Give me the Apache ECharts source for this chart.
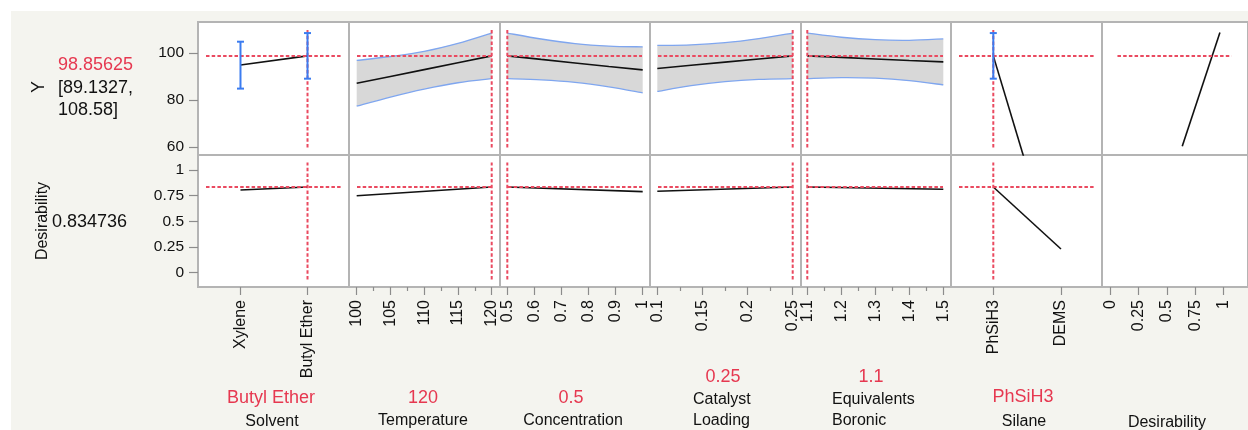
<!DOCTYPE html>
<html><head><meta charset="utf-8">
<script src="https://cdn.jsdelivr.net/npm/echarts@6/dist/echarts.min.js"></script>
<style>
html,body{margin:0;padding:0;background:#fff;width:1248px;height:430px;overflow:hidden;}
#bg{position:absolute;left:11px;top:11px;width:1237px;height:419px;background:#f4f4ef;}
#c{position:absolute;left:0;top:0;width:1248px;height:430px;}
</style></head>
<body><div id="bg"></div><div id="c"></div>
<script>
// ================= DATA =================
const solventCats = ['Xylene', 'Butyl Ether'];
const silaneCats = ['PhSiH3', 'DEMS'];
const yTickVals = [60, 80, 100];
const dTickVals = [0, 0.25, 0.5, 0.75, 1];
const solventTicks = [0, 1];
const tempTicks = [100, 105, 110, 115, 120];
const tempMinor = [102.5, 107.5, 112.5, 117.5];
const concTicks = [0.5, 0.6, 0.7, 0.8, 0.9, 1];
const catTicks = [0.1, 0.15, 0.2, 0.25];
const catMinor = [0.125, 0.175, 0.225];
const borTicks = [1.1, 1.2, 1.3, 1.4, 1.5];
const borMinor = [1.15, 1.25, 1.35, 1.45];
const silaneTicks = [0, 1];
const desTicks = [0, 0.25, 0.5, 0.75, 1];

const yCurrent = 98.85625;
const yCILow = 89.1327;
const yCIHigh = 108.58;
const dCurrent = 0.834736;

// current factor settings
const curSolvent = 1, curTemp = 120, curConc = 0.5, curCat = 0.25, curBor = 1.1, curSilane = 0;

// Solvent
const solventX = [0, 1];
const solventY = [95.0, 98.85625];
const solventLo = [84.9, 89.1327];
const solventHi = [104.9, 108.58];
const solventD = [0.805, 0.834736];
// Temperature
const tempX = [100, 105, 110, 115, 120];
const tempY = [87.2, 90.1, 93.0, 95.9, 98.86];
const tempLo = [77.4, 81.3, 84.7, 87.4, 89.13];
const tempHi = [96.9, 98.6, 100.8, 104.2, 108.58];
const tempDX = [100, 120];
const tempD = [0.75, 0.835];
// Concentration
const concX = [0.5, 0.625, 0.75, 0.875, 1];
const concY = [98.86, 97.35, 95.85, 94.35, 92.9];
const concLo = [89.13, 88.65, 87.6, 85.65, 83.1];
const concHi = [108.58, 106.05, 104.1, 103.05, 102.7];
const concDX = [0.5, 1];
const concD = [0.835, 0.789];
// Catalyst Loading
const catX = [0.1, 0.1375, 0.175, 0.2125, 0.25];
const catY = [93.5, 94.85, 96.2, 97.55, 98.86];
const catLo = [83.7, 86.15, 87.9, 88.85, 89.13];
const catHi = [103.3, 103.55, 104.5, 106.25, 108.58];
const catDX = [0.1, 0.25];
const catD = [0.793, 0.835];
// Equivalents Boronic
const borX = [1.1, 1.2, 1.3, 1.4, 1.5];
const borY = [98.86, 98.2, 97.55, 96.9, 96.3];
const borLo = [89.13, 89.6, 89.35, 88.3, 86.5];
const borHi = [108.58, 106.8, 105.75, 105.5, 106.1];
const borDX = [1.1, 1.5];
const borD = [0.835, 0.812];
// Silane
const silaneX = [0, 1];
const silaneY = [98.85625, 3];
const silaneLo = [89.1327];
const silaneHi = [108.58];
const silaneD = [0.834736, 0.231];
// Desirability function
const desX = [0.635, 0.968];
const desY = [60.3, 108.8];

// ================= LAYOUT =================
const COLS = [
  {left:198, width:151, min:-0.634, max:1.619},
  {left:349, width:151, min:98.86, max:121.23},
  {left:500, width:150, min:0.473, max:1.027},
  {left:650, width:151, min:0.0919, max:0.2592},
  {left:801, width:150, min:1.0815, max:1.5226},
  {left:951, width:151, min:-0.625, max:1.606},
  {left:1102, width:151, min:-0.074, max:1.216}
];
const ROWS = [
  {top:22, height:133, min:56.6, max:113.3},
  {top:155, height:132, min:-0.139, max:1.146}
];
const RED = '#ea4a60', REDTXT = '#e63850', BLUE = '#3b7cf0', EDGE = '#7fa6ef', BAND = '#d8d8d8', INK = '#111', FRAME = '#b4b4b4', TICK = '#8c8c8c';
const FONT = 'Liberation Sans, Arial, Helvetica, sans-serif';

const xTickSets = [solventTicks, tempTicks, concTicks, catTicks, borTicks, silaneTicks, desTicks];
const xMinorSets = [null, tempMinor, null, catMinor, borMinor, null, null];
const xFormatters = [
  v => solventCats[Math.round(v)], null, null, null, null,
  v => silaneCats[Math.round(v)], null
];

const grids = [], xAxes = [], yAxes = [], series = [];
function gi(r, c){ return r*7 + c; }

for (let r = 0; r < 2; r++) {
  for (let c = 0; c < 7; c++) {
    const col = COLS[c], row = ROWS[r];
    grids.push({left: col.left, top: row.top, width: col.width, height: row.height,
      show: true, backgroundColor: '#fff', borderColor: FRAME, borderWidth: 2, z: 0});
    const bottom = r === 1;
    const lab = {show: bottom, customValues: xTickSets[c], rotate: 90, margin: 13,
      fontSize: 16, color: INK, fontFamily: FONT, showMinLabel: true, showMaxLabel: true};
    if (xFormatters[c]) lab.formatter = xFormatters[c];
    xAxes.push({type: 'value', gridIndex: gi(r,c), min: col.min, max: col.max, position: 'bottom',
      axisLine: {show: false, onZero: false}, splitLine: {show: false},
      axisTick: {show: bottom, length: 8, customValues: xTickSets[c], lineStyle: {color: TICK, width: 1.2}},
      axisLabel: lab});
    const first = c === 0;
    const yt = r === 0 ? yTickVals : dTickVals;
    yAxes.push({type: 'value', gridIndex: gi(r,c), min: row.min, max: row.max, position: 'left',
      axisLine: {show: false, onZero: false}, splitLine: {show: false},
      axisTick: {show: first, length: 9, customValues: yt, lineStyle: {color: TICK, width: 1.2}},
      axisLabel: {show: first, customValues: yt, margin: 14, fontSize: 15.5, color: INK, fontFamily: FONT,
        showMinLabel: true, showMaxLabel: true}});
  }
}
// minor tick axes (bottom row)
for (let c = 0; c < 7; c++) {
  if (!xMinorSets[c]) continue;
  const col = COLS[c];
  xAxes.push({type: 'value', gridIndex: gi(1,c), min: col.min, max: col.max, position: 'bottom',
    axisLine: {show: false, onZero: false}, splitLine: {show: false},
    axisTick: {show: true, length: 4, customValues: xMinorSets[c], lineStyle: {color: TICK, width: 1.2}},
    axisLabel: {show: false}});
}

function xy(xs, ys){ return xs.map((x, i) => [x, ys[i]]); }
function hLine(c, r, yv, inL, inR){
  const col = COLS[c]; const s = col.max - col.min;
  return [[col.min + s*inL/col.width, yv], [col.max - s*inR/col.width, yv]];
}
function vLine(c, r, xv){
  const row = ROWS[r]; const s = row.max - row.min; const inset = 7.5;
  return [[xv, row.min + s*inset/row.height], [xv, row.max - s*inset/row.height]];
}
function line(r, c, data, color, width, z, extra){
  return Object.assign({type: 'line', xAxisIndex: gi(r,c), yAxisIndex: gi(r,c), data: data,
    symbol: 'none', silent: true, animation: false, z: z,
    lineStyle: {color: color, width: width}}, extra || {});
}
function dashed(r, c, data){
  return line(r, c, data, RED, 2, 6, {lineStyle: {color: RED, width: 2, type: [3.5, 2.2]}});
}
// Catmull-Rom style cubic path through screen points (drawing only)
function curvePath(pts, start){
  let d = start ? ('M' + pts[0][0] + ' ' + pts[0][1]) : ('L' + pts[0][0] + ' ' + pts[0][1]);
  for (let i = 0; i < pts.length - 1; i++) {
    const p0 = pts[Math.max(i-1, 0)], p1 = pts[i], p2 = pts[i+1], p3 = pts[Math.min(i+2, pts.length-1)];
    const c1 = [p1[0] + (p2[0]-p0[0])/6, p1[1] + (p2[1]-p0[1])/6];
    const c2 = [p2[0] - (p3[0]-p1[0])/6, p2[1] - (p3[1]-p1[1])/6];
    d += ' C' + c1[0] + ' ' + c1[1] + ' ' + c2[0] + ' ' + c2[1] + ' ' + p2[0] + ' ' + p2[1];
  }
  return d;
}
function band(r, c, xs, lo, hi){
  series.push({type: 'custom', xAxisIndex: gi(r,c), yAxisIndex: gi(r,c), z: 1, silent: true, animation: false,
    data: xs.map((x, i) => [x, lo[i], hi[i]]),
    encode: {x: 0, y: [1, 2]},
    renderItem: function(params, api){
      if (params.dataIndex !== 0) return null;
      const up = xs.map((x, i) => api.coord([x, hi[i]]));
      const dn = xs.map((x, i) => api.coord([x, lo[i]]));
      const fill = curvePath(up, true) + ' ' + curvePath(dn.slice().reverse(), false) + ' Z';
      return {type: 'group', children: [
        {type: 'path', shape: {pathData: fill}, style: {fill: BAND, stroke: null}},
        {type: 'path', shape: {pathData: curvePath(up, true)}, style: {fill: null, stroke: EDGE, lineWidth: 1.3}},
        {type: 'path', shape: {pathData: curvePath(dn, true)}, style: {fill: null, stroke: EDGE, lineWidth: 1.3}}
      ]};
    }});
}
function errorBars(r, c, xs, lo, hi){
  series.push({type: 'custom', xAxisIndex: gi(r,c), yAxisIndex: gi(r,c), z: 8, silent: true, animation: false,
    data: xs.slice(0, lo.length).map((x, i) => [x, lo[i], hi[i]]),
    encode: {x: 0, y: [1, 2]},
    renderItem: function(params, api){
      const x = api.value(0), a = api.coord([x, api.value(1)]), b = api.coord([x, api.value(2)]);
      const w = 3.5, st = {stroke: BLUE, lineWidth: 2};
      return {type: 'group', children: [
        {type: 'line', shape: {x1: a[0], y1: a[1], x2: b[0], y2: b[1]}, style: st},
        {type: 'line', shape: {x1: a[0]-w, y1: a[1], x2: a[0]+w, y2: a[1]}, style: st},
        {type: 'line', shape: {x1: b[0]-w, y1: b[1], x2: b[0]+w, y2: b[1]}, style: st}
      ]};
    }});
}

// ---- Upper row (Y) ----
// Solvent
series.push(line(0, 0, xy(solventX, solventY), INK, 1.6, 4));
series.push(dashed(0, 0, hLine(0, 0, yCurrent, 8, 8)));
series.push(dashed(0, 0, vLine(0, 0, curSolvent)));
errorBars(0, 0, solventX, solventLo, solventHi);
// Temperature
band(0, 1, tempX, tempLo, tempHi);
series.push(line(0, 1, xy(tempX, tempY), INK, 1.6, 4));
series.push(dashed(0, 1, hLine(1, 0, yCurrent, 8, 8)));
series.push(dashed(0, 1, vLine(1, 0, curTemp)));
// Concentration
band(0, 2, concX, concLo, concHi);
series.push(line(0, 2, xy(concX, concY), INK, 1.6, 4));
series.push(dashed(0, 2, hLine(2, 0, yCurrent, 8, 8)));
series.push(dashed(0, 2, vLine(2, 0, curConc)));
// Catalyst
band(0, 3, catX, catLo, catHi);
series.push(line(0, 3, xy(catX, catY), INK, 1.6, 4));
series.push(dashed(0, 3, hLine(3, 0, yCurrent, 8, 8)));
series.push(dashed(0, 3, vLine(3, 0, curCat)));
// Boronic
band(0, 4, borX, borLo, borHi);
series.push(line(0, 4, xy(borX, borY), INK, 1.6, 4));
series.push(dashed(0, 4, hLine(4, 0, yCurrent, 8, 8)));
series.push(dashed(0, 4, vLine(4, 0, curBor)));
// Silane
series.push(line(0, 5, xy(silaneX, silaneY), INK, 1.6, 4));
series.push(dashed(0, 5, hLine(5, 0, yCurrent, 8, 8)));
series.push(dashed(0, 5, vLine(5, 0, curSilane)));
errorBars(0, 5, silaneX, silaneLo, silaneHi);
// Desirability function
series.push(line(0, 6, xy(desX, desY), INK, 1.6, 4));
series.push(dashed(0, 6, hLine(6, 0, yCurrent, 16, 17)));

// ---- Lower row (Desirability) ----
const lowerSets = [
  [solventX, solventD, curSolvent], [tempDX, tempD, curTemp], [concDX, concD, curConc],
  [catDX, catD, curCat], [borDX, borD, curBor], [silaneX, silaneD, curSilane]
];
lowerSets.forEach((s, c) => {
  series.push(line(1, c, xy(s[0], s[1]), INK, 1.6, 4));
  series.push(dashed(1, c, hLine(c, 1, dCurrent, 8, 8)));
  series.push(dashed(1, c, vLine(c, 1, s[2])));
});

// ---- Texts ----
function txt(x, y, text, size, color, opts){
  return Object.assign({type: 'text', x: x, y: y, silent: true,
    style: {text: text, fill: color, font: size + 'px ' + FONT, align: 'center', verticalAlign: 'middle'}}, opts || {});
}
function txtL(x, y, text, size, color){
  const t = txt(x, y, text, size, color); t.style.align = 'left'; return t;
}
const graphics = [
  txt(39, 87, 'Y', 18, INK, {rotation: Math.PI/2}),
  txtL(58, 65, String(yCurrent), 18, REDTXT),
  txtL(58, 88, '[' + yCILow + ',', 18, INK),
  txtL(58, 110, yCIHigh + ']', 18, INK),
  txt(42.5, 221, 'Desirability', 16, INK, {rotation: Math.PI/2}),
  txtL(52, 222, String(dCurrent), 18, INK),
  txt(271, 398, solventCats[curSolvent], 18, REDTXT),
  txt(272, 422, 'Solvent', 16, INK),
  txt(423, 398, String(curTemp), 18, REDTXT),
  txt(423, 421, 'Temperature', 16, INK),
  txt(571, 398, String(curConc), 18, REDTXT),
  txt(573, 421, 'Concentration', 16, INK),
  txt(723, 377, String(curCat), 18, REDTXT),
  txtL(693, 400, 'Catalyst', 16, INK),
  txtL(693, 421, 'Loading', 16, INK),
  txt(871, 377, String(curBor), 18, REDTXT),
  txtL(832, 400, 'Equivalents', 16, INK),
  txtL(832, 421, 'Boronic', 16, INK),
  txt(1023, 397, silaneCats[curSilane], 18, REDTXT),
  txt(1024, 422, 'Silane', 16, INK),
  txt(1167, 423, 'Desirability', 16, INK)
];

const chart = echarts.init(document.getElementById('c'), null, {renderer: 'canvas'});
chart.setOption({
  animation: false,
  backgroundColor: 'transparent',
  grid: grids, xAxis: xAxes, yAxis: yAxes, series: series,
  graphic: graphics
});
</script>
</body></html>
